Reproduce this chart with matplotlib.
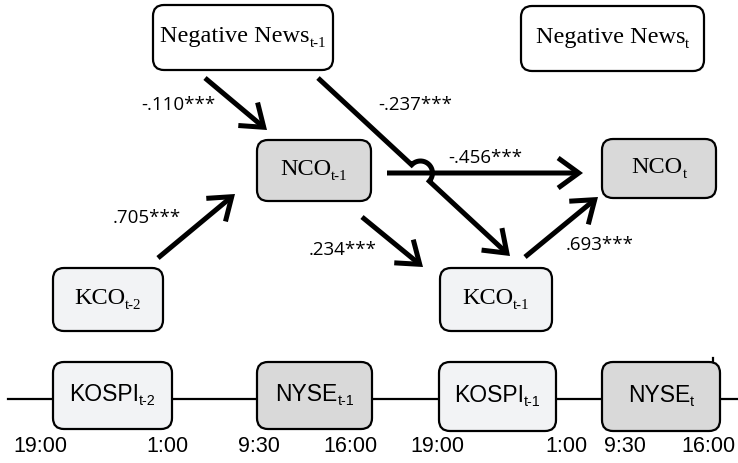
import numpy as np
import matplotlib.pyplot as plt
from matplotlib.patches import FancyBboxPatch, FancyArrowPatch
from matplotlib.path import Path

# Nodes of the path diagram (main text, subscript)
nodes = [("Negative News", "t-1"), ("Negative News", "t"),
         ("NCO", "t-1"), ("NCO", "t"),
         ("KCO", "t-2"), ("KCO", "t-1")]
node_colors = ["white", "white", "#d9d9d9", "#d9d9d9", "#f2f3f5", "#f2f3f5"]

# Market sessions on the timeline
markets = [("KOSPI", "t-2"), ("NYSE", "t-1"), ("KOSPI", "t-1"), ("NYSE", "t")]
market_colors = ["#f2f3f5", "#d9d9d9", "#f2f3f5", "#d9d9d9"]
times = ["19:00", "1:00", "9:30", "16:00", "19:00", "1:00", "9:30", "16:00"]

# Path coefficients
coefs = ["-.110***", "-.237***", "-.456***", ".705***", ".234***", ".693***"]

fig = plt.figure(figsize=(7.38, 4.63), dpi=100)
ax = fig.add_axes([0, 0, 1, 1])
ax.set_xlim(0, 738)
ax.set_ylim(463, 0)
ax.axis("off")
renderer = fig.canvas.get_renderer()

# box geometry: (x0, y0, x1, y1) in pixels
node_boxes = [(153, 5, 333, 70), (521, 6, 704, 71),
              (257, 140, 371, 201), (602, 139, 716, 198),
              (53, 268, 163, 331), (440, 268, 552, 331)]
market_boxes = [(53, 362, 172, 429), (257, 362, 372, 429),
                (439, 362, 556, 431), (602, 362, 720, 431)]
time_x = [40, 167, 259, 350, 437, 566, 625, 708]


def label_with_sub(cx, cy, main, sub, family, size):
    t1 = ax.text(0, 0, main, family=family, fontsize=size,
                 ha="left", va="center", zorder=4)
    t2 = ax.text(0, 0, sub, family=family, fontsize=size * 0.62,
                 ha="left", va="center", zorder=4)
    w1 = t1.get_window_extent(renderer).width
    w2 = t2.get_window_extent(renderer).width
    x0 = cx - (w1 + w2) / 2
    t1.set_position((x0, cy))
    t2.set_position((x0 + w1, cy + size * 0.42))


def draw_box(b, label, color, family, size):
    x0, y0, x1, y1 = b
    p = FancyBboxPatch((x0, y0), x1 - x0, y1 - y0,
                       boxstyle="round,pad=0,rounding_size=11",
                       fc=color, ec="black", lw=1.6, zorder=3)
    ax.add_patch(p)
    label_with_sub((x0 + x1) / 2, (y0 + y1) / 2 - 1, label[0], label[1], family, size)


for b, lab, c in zip(node_boxes, nodes, node_colors):
    draw_box(b, lab, c, "Liberation Serif", 17.5)

# timeline
ax.plot([8, 738], [399, 399], color="black", lw=1.6, zorder=1)
ax.plot([713, 713], [358, 364], color="black", lw=1.6, zorder=2)
for b, lab, c in zip(market_boxes, markets, market_colors):
    draw_box(b, lab, c, "Liberation Sans", 16.5)
for x, t in zip(time_x, times):
    ax.text(x, 446, t, family="Liberation Sans", fontsize=15.5,
            ha="center", va="center")

astyle = "->,head_length=0.55,head_width=0.4"


def arrow(p0, p1):
    a = FancyArrowPatch(p0, p1, arrowstyle=astyle, mutation_scale=27,
                        lw=3.6, color="black", zorder=2,
                        shrinkA=0, shrinkB=0, joinstyle="miter", capstyle="butt")
    ax.add_patch(a)


arrow((205, 78), (267, 130))
arrow((387, 173), (583, 173))
arrow((158, 258), (235, 194))
arrow((362, 217), (423, 267))
arrow((525, 257), (598, 197))

# long diagonal with a hop over the horizontal arrow
p0 = np.array([318.0, 78.0])
p1 = np.array([510.0, 256.0])
d = (p1 - p0) / np.linalg.norm(p1 - p0)
n = np.array([d[1], -d[0]])
t_cross = (173 - p0[1]) / d[1]
c = p0 + d * t_cross
r = 12
th = np.linspace(np.pi, 0, 25)
arc = [c + r * (np.cos(a) * d + np.sin(a) * n) for a in th]
verts = [p0] + arc + [p1]
path = Path(np.array(verts))
hop = FancyArrowPatch(path=path, arrowstyle=astyle, mutation_scale=27,
                      lw=3.6, color="black", zorder=2,
                      shrinkA=0, shrinkB=0, joinstyle="miter", capstyle="butt")
ax.add_patch(hop)

label_pos = [(178, 105), (415, 105), (485, 158), (147, 218), (343, 250), (600, 245)]
for (x, y), s in zip(label_pos, coefs):
    ax.text(x, y, s, family="Open Sans", fontsize=13.5, ha="center", va="center")

fig.savefig("out.png", dpi=100)
